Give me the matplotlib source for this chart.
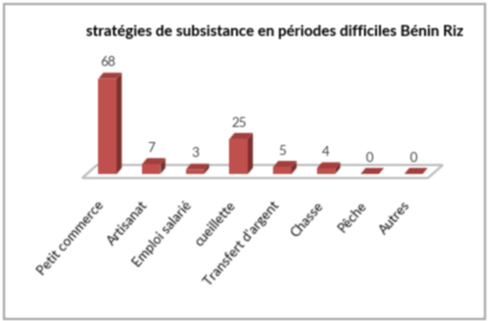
import matplotlib
matplotlib.use("Agg")
import matplotlib.pyplot as plt
import numpy as np
from matplotlib.patches import Polygon, Rectangle
from matplotlib.transforms import ScaledTranslation

categories = ["Petit commerce", "Artisanat", "Emploi salarié", "cueillette",
              "Transfert d'argent", "Chasse", "Pêche", "Autres"]
values = [68, 7, 3, 25, 5, 4, 0, 0]
title = "stratégies de subsistance en périodes difficiles Bénin Riz"

W, H = 489, 321
plt.rcParams['font.family'] = ['Lato', 'DejaVu Sans']

fig = plt.figure(figsize=((W + 0.1) / 100, (H + 0.1) / 100), dpi=100)
fig.patch.set_facecolor("white")
# outer grey frame of the pasted chart
fig.add_artist(Rectangle((3.5 / W, 1 - 319 / H), 481 / W, 315 / H, transform=fig.transFigure,
                         fill=False, edgecolor="#a8a8a8", lw=1.6))

# x: bar centre 0 at 107.5 px, 43.7 px per bar; y: zero at 174 px, 1.4 px per unit
left, right = 107.5 - 0.5 * 43.7, 107.5 + 7.5 * 43.7
top, bottom = 174 - 70 * 1.4, 174
ax = fig.add_axes([left / W, 1 - bottom / H, (right - left) / W, (bottom - top) / H])
ax.set_xlim(-0.5, 7.5)
ax.set_ylim(0, 70)
for s in ax.spines.values():
    s.set_visible(False)
ax.patch.set_visible(False)

bar_w = 0.21    # half width of a bar
dx, dy = 0.115, 4.3   # depth of the fake 3d

# floor
floor = Polygon([(-0.58, -2.9), (7.33, -2.9), (7.67, 6.4), (-0.24, 6.4)], closed=True,
                facecolor="white", edgecolor="#bdbdbd", lw=1.6, clip_on=False, zorder=1)
ax.add_patch(floor)

for i, v in enumerate(values):
    x0, x1 = i - bar_w, i + bar_w
    ax.add_patch(Polygon([(x0, 0), (x1, 0), (x1, v), (x0, v)], facecolor="#c0504d",
                         edgecolor="none", clip_on=False, zorder=3))
    ax.add_patch(Polygon([(x1, 0), (x1 + dx, dy), (x1 + dx, v + dy), (x1, v)], facecolor="#7c2f2d",
                         edgecolor="none", clip_on=False, zorder=3))
    ax.add_patch(Polygon([(x0, v), (x1, v), (x1 + dx, v + dy), (x0 + dx, v + dy)], facecolor="#a33f3c",
                         edgecolor="none", clip_on=False, zorder=3))
    ax.text(i, v + dy + 7.4, str(v), ha="center", va="center", fontsize=9.5, color="#444444", zorder=4)

ax.set_xticks(range(len(categories)))
ax.set_xticklabels(categories, rotation=49, ha="right", va="top", rotation_mode="anchor",
                   fontsize=9.7, color="#111111")
ax.set_yticks([])
ax.tick_params(axis="x", length=0, pad=18)
# labels sit a bit left of the bar centres
shift = ScaledTranslation(-10 / 100, 0, fig.dpi_scale_trans)
for lab in ax.get_xticklabels():
    lab.set_transform(lab.get_transform() + shift)

fig.text(274.5 / W, 1 - 32 / H, title, ha="center", va="center", fontsize=10.9, color="#000000",
         fontweight="bold")

fig.savefig("out.png", dpi=100)

# the reference is a soft upscaled screenshot, so soften the render a little
img = plt.imread("out.png")[:, :, :3]
for axis in (0, 1):
    img = 0.25 * np.roll(img, 1, axis=axis) + 0.5 * img + 0.25 * np.roll(img, -1, axis=axis)
plt.imsave("out.png", np.clip(img, 0, 1))
